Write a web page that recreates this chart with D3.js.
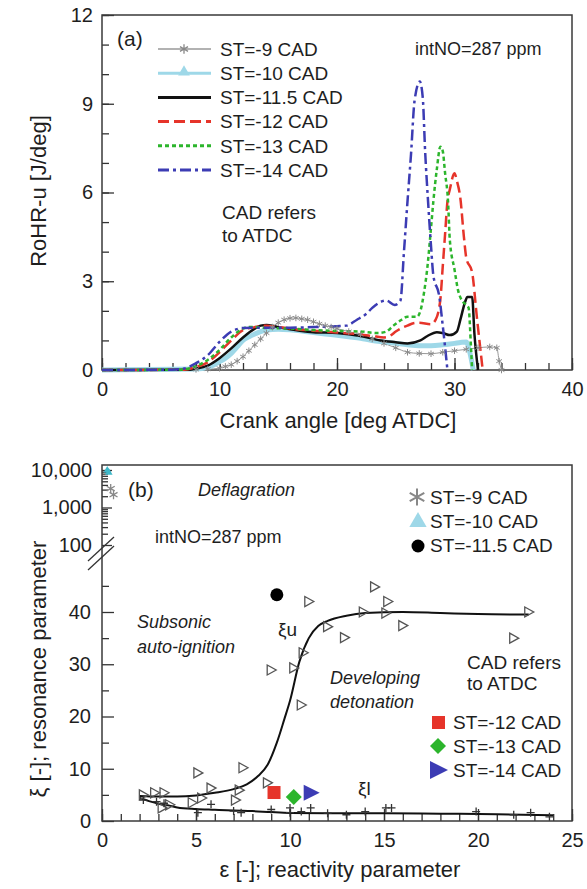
<!DOCTYPE html>
<html>
<head>
<meta charset="utf-8">
<script src="https://cdn.jsdelivr.net/npm/d3@7"></script>
<style>
body { margin: 0; background: #fff; }
svg text { font-family: "Liberation Sans", Arial, sans-serif; fill: #1e1e1e; }
</style>
</head>
<body>
<div id="chart"></div>
<script>
// ---- panel (a): rate of heat release, [crank angle, RoHR-u] ----
const st9 = [[0,0],[4,0],[8,0.02],[9,0.03],[10,0.06],[10.5,0.12],[11,0.18],[11.5,0.3],[12,0.45],[12.5,0.65],[13,0.85],[13.5,1.05],[14,1.25],[14.5,1.45],[15,1.6],[15.5,1.7],[16,1.75],[16.5,1.76],[17,1.73],[17.5,1.7],[18,1.63],[18.5,1.56],[19,1.5],[19.5,1.45],[20,1.4],[21,1.3],[22,1.2],[23,1.05],[24,0.9],[25,0.75],[26,0.6],[27,0.56],[28,0.55],[29,0.6],[30,0.65],[31,0.7],[32,0.75],[33,0.78],[33.6,0.75],[33.8,0.3],[34,0]];
const st10 = [[0,0],[8,0.03],[9,0.08],[10,0.28],[10.5,0.4],[11,0.56],[11.5,0.78],[12,1.0],[12.5,1.12],[13,1.22],[13.5,1.3],[14,1.35],[15,1.38],[16,1.36],[17,1.32],[18,1.27],[19,1.22],[20,1.17],[21,1.12],[22,1.07],[23,1.0],[24,0.95],[25,0.9],[26,0.85],[27,0.82],[28,0.82],[29,0.85],[30,0.9],[30.5,0.93],[31,0.95],[31.3,0.6],[31.6,0]];
const st115 = [[0,0],[7.5,0.01],[8,0.05],[9,0.15],[10,0.4],[11,0.73],[12,1.1],[13,1.4],[13.5,1.5],[14,1.52],[14.5,1.5],[15,1.45],[16,1.38],[17,1.32],[18,1.28],[20,1.25],[22,1.15],[23.7,1.0],[25,0.94],[26,0.9],[27.1,1.0],[27.7,1.15],[28.5,1.28],[29,1.25],[29.6,1.18],[30.2,1.3],[30.5,1.7],[30.9,2.3],[31.1,2.47],[31.5,2.47],[31.7,1.2],[32,0]];
const st12 = [[0,0],[7,0.01],[8,0.1],[9,0.26],[10,0.6],[11,1.0],[12,1.35],[13,1.45],[14,1.5],[15,1.45],[16,1.4],[18,1.33],[20,1.27],[22,1.2],[23,1.15],[24,1.1],[24.5,1.15],[25,1.3],[25.5,1.42],[26,1.5],[26.5,1.58],[27,1.6],[28,1.55],[28.4,1.7],[28.8,2.4],[29,3.5],[29.2,4.6],[29.4,5.7],[29.6,6.1],[30,6.65],[30.2,6.4],[30.5,5.8],[30.8,4.5],[31,3.8],[31.5,3.3],[31.9,1.8],[32.4,0]];
const st13 = [[0,0],[6.5,0.01],[7.5,0.06],[8,0.13],[9,0.34],[10,0.68],[11,1.1],[12,1.4],[12.5,1.45],[13,1.45],[14,1.42],[16,1.4],[18,1.35],[20,1.32],[22,1.3],[23.5,1.25],[24.2,1.3],[24.8,1.5],[25.5,1.7],[26,1.8],[26.8,1.8],[27.1,2.0],[27.4,2.6],[27.7,3.5],[28,4.8],[28.2,5.7],[28.5,6.8],[28.8,7.55],[29,7.4],[29.2,6.65],[29.45,5.7],[29.6,4.4],[30,3.4],[30.3,2.7],[30.6,2.37],[31,2.2],[31.2,2.1],[31.4,0.8],[31.5,0]];
const st14 = [[0,0],[6,0.01],[7,0.05],[8,0.23],[9,0.5],[10,0.95],[11,1.3],[11.5,1.38],[12,1.42],[14,1.43],[16,1.43],[18,1.45],[20,1.48],[20.8,1.5],[21.7,1.7],[22.5,1.9],[23,2.1],[23.7,2.3],[24.2,2.35],[24.9,2.2],[25.4,2.35],[25.7,4.0],[26,5.7],[26.3,7.3],[26.6,9.1],[27.05,9.75],[27.3,9.2],[27.5,7.4],[27.75,5.7],[28,4.2],[28.2,3.2],[28.7,2.5],[29,1.5],[29.4,0]];
const legendA = ["ST=-9 CAD", "ST=-10 CAD", "ST=-11.5 CAD", "ST=-12 CAD", "ST=-13 CAD", "ST=-14 CAD"];
const xTicksA = [0, 10, 20, 30, 40];
const yTicksA = [0, 3, 6, 9, 12];

// ---- panel (b): resonance vs reactivity, [epsilon, xi] ----
const xiUpperCurve = [[2,4.8],[3,4.7],[4,4.7],[5,4.9],[6,5.4],[7,6.1],[7.7,7.0],[8.3,8.6],[8.8,10.7],[9.3,15],[9.7,19.5],[10,23],[10.5,30.5],[11,35],[11.5,37.3],[12,38.3],[13,39.3],[14,39.8],[16,40],[18,39.8],[20,39.6],[22.7,39.5]];
const xiLowerCurve = [[2,4.4],[2.5,3.8],[3,3.3],[3.5,3.0],[4,2.6],[5,2.3],[6,2.15],[7,2.0],[8,1.9],[9,1.7],[10,1.55],[12,1.5],[15,1.5],[18,1.4],[21,1.3],[24,1.1]];
const xiUpperPts = [[2.2,5.0],[2.8,5.4],[3.3,5.4],[3.2,2.5],[3.6,3.1],[4.8,3.5],[5.1,9.2],[5.3,4.4],[5.8,6.3],[7.1,4.0],[7.3,5.9],[7.5,10.2],[8.8,7.3],[9.0,28.9],[10.2,29.3],[10.6,22.2],[10.7,32.2],[11.0,42],[12.0,37.2],[12.9,35.1],[13.9,40.0],[14.5,44.8],[15.2,42],[15.1,39.8],[16.0,37.4],[21.9,35.0],[22.7,40.0]];
const xiLowerPts = [[2.2,4.0],[2.9,3.7],[3.3,3.4],[5.1,1.6],[5.8,3.2],[7.0,1.9],[7.4,1.6],[9.0,2.2],[10.0,1.6],[10.0,2.5],[10.6,1.8],[11.1,2.5],[12,1.5],[13,1.2],[14,1.8],[15.1,2.5],[15.4,2.5],[19.9,1.8],[21.9,1.2],[22.8,1.6],[23.8,0.8]];
const st9Pts = [[0.25,3200],[0.4,2200]];
const st10Pts = [[0.12,9800],[0.2,8600]];
const st115Pt = [9.3, 43.3];
const st12Pt = [9.15, 5.45];
const st13Pt = [10.2, 4.6];
const st14Pt = [11.1, 5.4];
const legendB1 = ["ST=-9 CAD", "ST=-10 CAD", "ST=-11.5 CAD"];
const legendB2 = ["ST=-12 CAD", "ST=-13 CAD", "ST=-14 CAD"];
const xTicksB = [0, 5, 10, 15, 20, 25];
const yTicksB = [0, 10, 20, 30, 40];
const yLogTicks = [100, 1000, 10000];

const colors = {gray: "#999", cyan: "#9ed8e8", black: "#111", red: "#e6342a", green: "#2cb52c", blue: "#3c3cb4"};
const sans = "'Open Sans', 'DejaVu Sans', sans-serif";

const svg = d3.select("#chart").append("svg").attr("width", 587).attr("height", 889);

// scales
const xA = d3.scaleLinear().domain([0, 40]).range([102, 572]);
const yA = d3.scaleLinear().domain([0, 12]).range([370, 15]);
const xB = d3.scaleLinear().domain([0, 25]).range([102, 572]);
const yB = d3.scaleLinear().domain([0, 40]).range([821, 612]);
const yLog = d3.scaleLog().domain([100, 10000]).range([545, 470]);

// helper: axis with inward ticks, no domain line
function drawAxis(axis, transform, fontSize) {
    const g = svg.append("g").attr("transform", transform).call(axis);
    g.select(".domain").remove();
    g.selectAll(".tick line").attr("stroke", "#333").attr("stroke-width", 1.3);
    g.selectAll(".tick text").attr("font-size", fontSize).attr("font-family", "'Liberation Sans', Arial, sans-serif").attr("fill", "#1e1e1e");
    return g;
}

// ================= panel (a) =================
drawAxis(d3.axisBottom(xA).tickValues(d3.range(0, 41, 2)).tickSize(-7).tickFormat(""), "translate(0,370)", 20);
drawAxis(d3.axisBottom(xA).tickValues(xTicksA).tickSize(-12).tickPadding(12), "translate(0,370)", 20);
drawAxis(d3.axisLeft(yA).tickValues(d3.range(0, 13, 1)).tickSize(-7).tickFormat(""), "translate(102,0)", 20);
drawAxis(d3.axisLeft(yA).tickValues(yTicksA).tickSize(-12).tickPadding(9), "translate(102,0)", 20);

svg.append("rect").attr("x", 102).attr("y", 15).attr("width", 470).attr("height", 355)
    .attr("fill", "none").attr("stroke", "#3a3a3a").attr("stroke-width", 1.5);

const lineA = d3.line().x(d => xA(d[0])).y(d => yA(d[1])).curve(d3.curveMonotoneX);
const seriesA = [
    {data: st9, color: colors.gray, width: 1, dash: null},
    {data: st10, color: colors.cyan, width: 5, dash: null},
    {data: st115, color: colors.black, width: 2.5, dash: null},
    {data: st12, color: colors.red, width: 2.5, dash: "11,5"},
    {data: st13, color: colors.green, width: 2.5, dash: "4,3"},
    {data: st14, color: colors.blue, width: 2.5, dash: "11,4,3,4"}
];
seriesA.forEach(s => {
    svg.append("path").datum(s.data)
        .attr("fill", "none").attr("stroke", s.color).attr("stroke-width", s.width)
        .attr("stroke-dasharray", s.dash).attr("d", lineA);
});
// star markers along the ST=-9 curve
const star = d3.symbol(d3.symbolAsterisk);
svg.append("g").selectAll("path").data(st9.filter(d => d[0] >= 8)).enter().append("path")
    .attr("transform", d => `translate(${xA(d[0])},${yA(d[1])})`)
    .attr("d", star.size(30)).attr("fill", "none").attr("stroke", "#8a8a8a").attr("stroke-width", 1);

// legend (a)
const legA = svg.append("g");
legendA.forEach((name, i) => {
    const s = seriesA[i];
    const y = 49 + i * 24.2;
    legA.append("line").attr("x1", 158).attr("x2", 211).attr("y1", y).attr("y2", y)
        .attr("stroke", s.color).attr("stroke-width", i === 0 ? 1.5 : 3)
        .attr("stroke-dasharray", s.dash);
    legA.append("text").attr("x", 220).attr("y", y).attr("dy", "0.36em")
        .attr("font-family", sans).attr("font-size", 19).text(name);
});
legA.append("path").attr("transform", "translate(184,49)").attr("d", d3.symbol(d3.symbolAsterisk).size(60)())
    .attr("fill", "none").attr("stroke", "#888").attr("stroke-width", 1.3);
legA.append("path").attr("transform", "translate(184,72)").attr("d", d3.symbol(d3.symbolTriangle).size(60)())
    .attr("fill", colors.cyan);

svg.append("text").attr("x", 117).attr("y", 46).attr("font-size", 21).text("(a)");
svg.append("text").attr("x", 415).attr("y", 55).attr("font-family", sans).attr("font-size", 18).text("intNO=287 ppm");
svg.append("text").attr("x", 222).attr("y", 219).attr("font-size", 19).text("CAD refers");
svg.append("text").attr("x", 222).attr("y", 242).attr("font-size", 19).text("to ATDC");
svg.append("text").attr("transform", "translate(46,191) rotate(-90)").attr("text-anchor", "middle")
    .attr("font-size", 22).text("RoHR-u [J/deg]");
svg.append("text").attr("x", 338).attr("y", 428).attr("text-anchor", "middle")
    .attr("font-size", 22).text("Crank angle [deg ATDC]");

// ================= panel (b) =================
drawAxis(d3.axisBottom(xB).tickValues(d3.range(0, 26, 1)).tickSize(-7).tickFormat(""), "translate(0,821)", 20);
drawAxis(d3.axisBottom(xB).tickValues(xTicksB).tickSize(-12).tickPadding(12), "translate(0,821)", 20);
drawAxis(d3.axisLeft(yB).tickValues([5, 15, 25, 35, 45]).tickSize(-7).tickFormat(""), "translate(102,0)", 20);
drawAxis(d3.axisLeft(yB).tickValues(yTicksB).tickSize(-12).tickPadding(11), "translate(102,0)", 20);
const minorLog = d3.range(2, 10).map(k => k * 100).concat(d3.range(2, 10).map(k => k * 1000));
drawAxis(d3.axisLeft(yLog).tickValues(minorLog).tickSize(-6).tickFormat(""), "translate(102,0)", 20);
drawAxis(d3.axisLeft(yLog).tickValues(yLogTicks).tickSize(-10).tickPadding(10).tickFormat(d3.format(",")), "translate(102,0)", 20);

svg.append("rect").attr("x", 102).attr("y", 465).attr("width", 470).attr("height", 356)
    .attr("fill", "none").attr("stroke", "#3a3a3a").attr("stroke-width", 1.5);

// axis break marks
svg.append("line").attr("x1", 88).attr("y1", 561).attr("x2", 114).attr("y2", 537).attr("stroke", "#333").attr("stroke-width", 1.3);
svg.append("line").attr("x1", 88).attr("y1", 570).attr("x2", 114).attr("y2", 546).attr("stroke", "#333").attr("stroke-width", 1.3);

const lineB = d3.line().x(d => xB(d[0])).y(d => yB(d[1])).curve(d3.curveMonotoneX);
svg.append("path").datum(xiUpperCurve).attr("fill", "none").attr("stroke", "#111").attr("stroke-width", 2).attr("d", lineB);
svg.append("path").datum(xiLowerCurve).attr("fill", "none").attr("stroke", "#111").attr("stroke-width", 2).attr("d", lineB);

// open right-pointing triangles (xi_u data)
const triRight = "M-4,-5L5,0L-4,5Z";
svg.append("g").selectAll("path").data(xiUpperPts).enter().append("path")
    .attr("transform", d => `translate(${xB(d[0])},${yB(d[1])})`)
    .attr("d", triRight).attr("fill", "none").attr("stroke", "#555").attr("stroke-width", 1.3);
// plus signs (xi_l data)
svg.append("g").selectAll("path").data(xiLowerPts).enter().append("path")
    .attr("transform", d => `translate(${xB(d[0])},${yB(d[1])})`)
    .attr("d", "M-4,0H4M0,-4V4").attr("fill", "none").attr("stroke", "#333").attr("stroke-width", 1.3);

// deflagration points on log part
svg.append("g").selectAll("path").data(st9Pts).enter().append("path")
    .attr("transform", d => `translate(${xB(d[0]) + 4},${yLog(d[1])})`)
    .attr("d", d3.symbol(d3.symbolAsterisk).size(60)()).attr("fill", "none").attr("stroke", "#888").attr("stroke-width", 1.3);
svg.append("g").selectAll("path").data(st10Pts).enter().append("path")
    .attr("transform", d => `translate(${xB(d[0]) + 3},${yLog(d[1])})`)
    .attr("d", d3.symbol(d3.symbolTriangle).size(25)()).attr("fill", "#3fb8c8");

// highlighted cases
svg.append("circle").attr("cx", xB(st115Pt[0])).attr("cy", yB(st115Pt[1])).attr("r", 6.5).attr("fill", "#000");
svg.append("rect").attr("x", xB(st12Pt[0]) - 6.5).attr("y", yB(st12Pt[1]) - 6.5).attr("width", 13).attr("height", 13).attr("fill", colors.red);
svg.append("path").attr("transform", `translate(${xB(st13Pt[0])},${yB(st13Pt[1])})`).attr("d", "M0,-8L8,0L0,8L-8,0Z").attr("fill", colors.green);
svg.append("path").attr("transform", `translate(${xB(st14Pt[0])},${yB(st14Pt[1])})`).attr("d", "M-7,-8L9,0L-7,8Z").attr("fill", colors.blue);

// legends (b)
const legB = svg.append("g");
legendB1.forEach((name, i) => {
    legB.append("text").attr("x", 430).attr("y", 497 + i * 24.3).attr("dy", "0.36em")
        .attr("font-family", sans).attr("font-size", 19).text(name);
});
legB.append("path").attr("transform", "translate(417,497)").attr("d", d3.symbol(d3.symbolAsterisk).size(200)())
    .attr("fill", "none").attr("stroke", "#888").attr("stroke-width", 2);
legB.append("path").attr("transform", "translate(418,522)").attr("d", d3.symbol(d3.symbolTriangle).size(130)())
    .attr("fill", colors.cyan);
legB.append("circle").attr("cx", 418).attr("cy", 546).attr("r", 6.5).attr("fill", "#000");

legendB2.forEach((name, i) => {
    legB.append("text").attr("x", 453).attr("y", 722 + i * 24).attr("dy", "0.36em")
        .attr("font-family", sans).attr("font-size", 19).text(name);
});
legB.append("rect").attr("x", 432).attr("y", 716).attr("width", 13).attr("height", 13).attr("fill", colors.red);
legB.append("path").attr("transform", "translate(438,746)").attr("d", "M0,-8L8,0L0,8L-8,0Z").attr("fill", colors.green);
legB.append("path").attr("transform", "translate(438,770)").attr("d", "M-8,-9L10,0L-8,9Z").attr("fill", colors.blue);

// annotations (b)
svg.append("text").attr("x", 128).attr("y", 497).attr("font-size", 21).text("(b)");
const italic = (x, y, t) => svg.append("text").attr("x", x).attr("y", y).attr("font-family", sans)
    .attr("font-style", "italic").attr("font-size", 18).text(t);
italic(198, 496, "Deflagration");
italic(137, 628, "Subsonic");
italic(137, 653, "auto-ignition");
italic(330, 684, "Developing");
italic(330, 708, "detonation");
svg.append("text").attr("x", 155).attr("y", 543).attr("font-family", sans).attr("font-size", 18).text("intNO=287 ppm");
svg.append("text").attr("x", 467).attr("y", 669).attr("font-size", 19).text("CAD refers");
svg.append("text").attr("x", 467).attr("y", 690).attr("font-size", 19).text("to ATDC");
svg.append("text").attr("x", 278).attr("y", 636).attr("font-size", 19).text("ξu");
svg.append("text").attr("x", 358).attr("y", 795).attr("font-size", 19).text("ξl");
svg.append("text").attr("transform", "translate(46,669) rotate(-90)").attr("text-anchor", "middle")
    .attr("font-size", 22).text("ξ [-]; resonance parameter");
svg.append("text").attr("x", 340).attr("y", 877).attr("text-anchor", "middle")
    .attr("font-size", 22).text("ε [-]; reactivity parameter");
</script>
</body>
</html>
